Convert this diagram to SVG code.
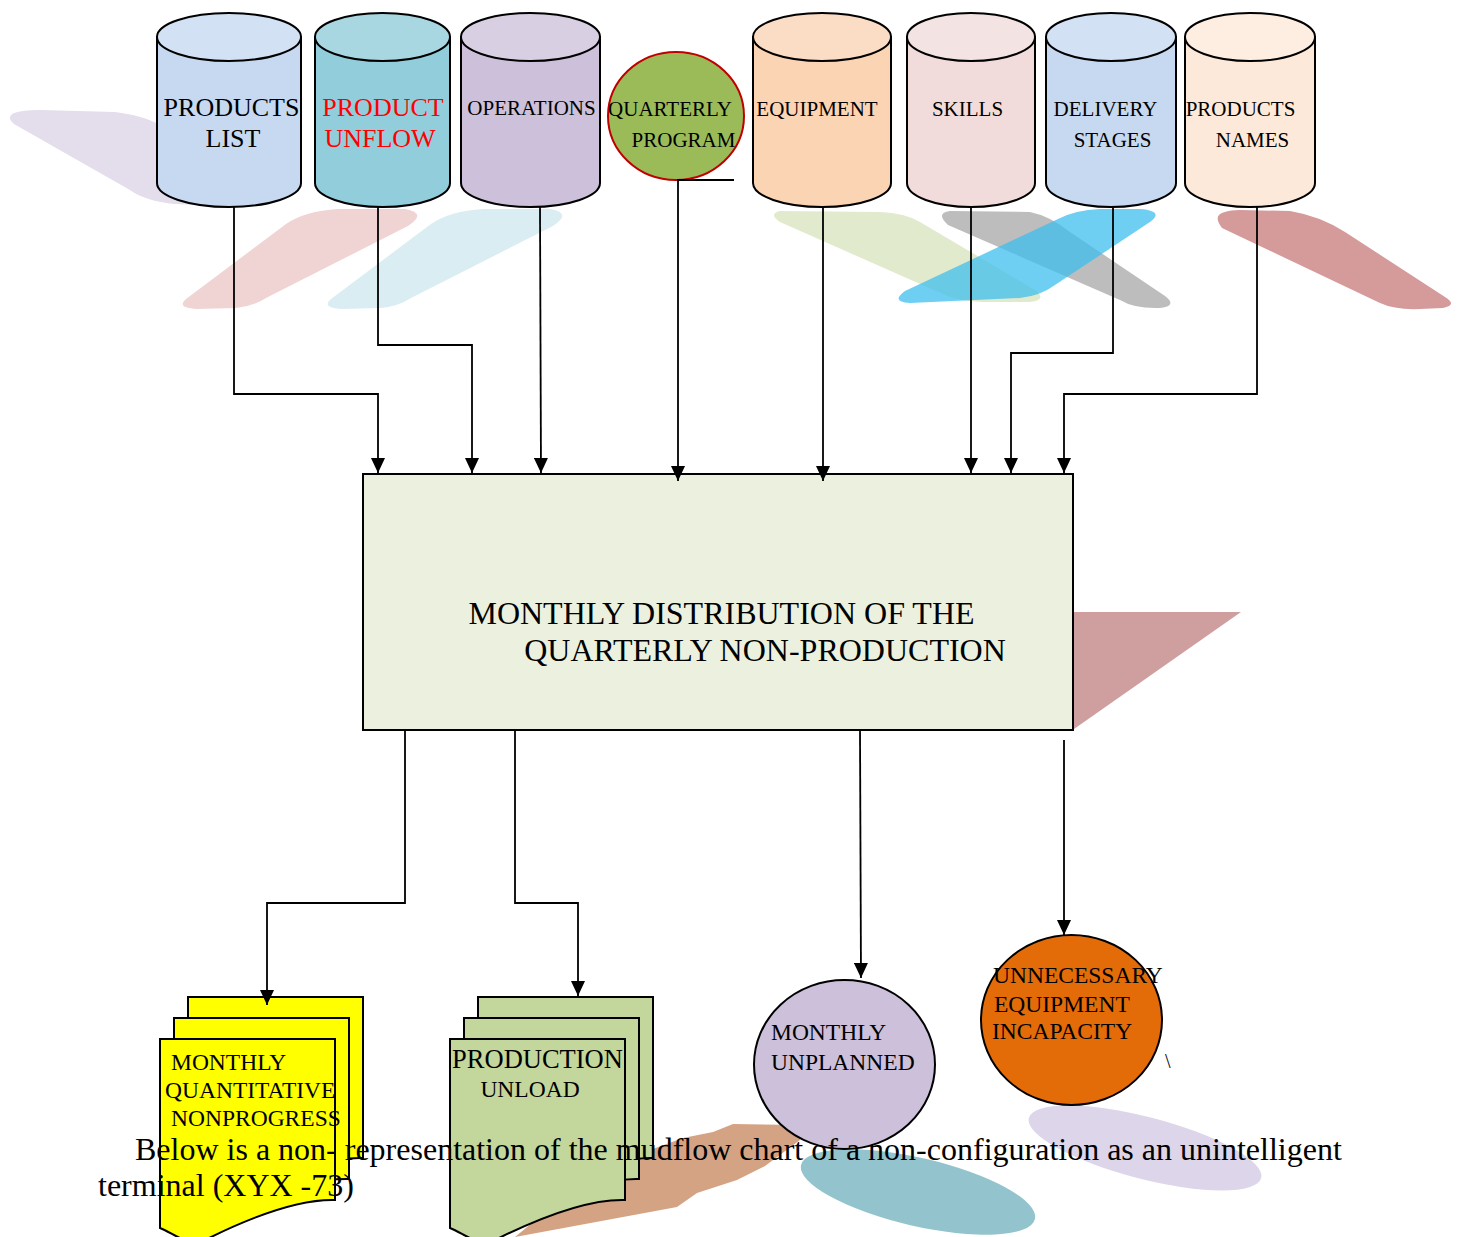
<svg xmlns="http://www.w3.org/2000/svg" xmlns:xlink="http://www.w3.org/1999/xlink" width="1461" height="1237" viewBox="0 0 1461 1237">
<style>
  text { font-family: "Liberation Serif", "Times New Roman", serif; fill: #000; }
  .cyl { stroke: #000; stroke-width: 2; }
  .conn { fill: none; stroke: #000; stroke-width: 1.8; marker-end: url(#arr); }
  .doc { stroke: #000; stroke-width: 2; }
  .t21 { font-size: 21px; text-anchor: middle; }
  .t26 { font-size: 26px; text-anchor: middle; }
  .t23 { font-size: 23.5px; }
</style>
<defs>
  <marker id="arr" markerWidth="15" markerHeight="14" refX="15" refY="7" orient="auto" markerUnits="userSpaceOnUse">
    <path d="M0,0 L15,7 L0,14 Z" fill="#000"/>
  </marker>
  <path id="docshape" d="M0,0 H175 V161 C140,160 95,176 45,201 C30,209 15,195 0,189 Z"/>
</defs>
<rect width="1461" height="1237" fill="#fff"/>

<g id="background-shapes">
  <path d="M14,113 Q6,117 14,124 L130,190 Q145,201 175,204 L240,206 L175,135 Q155,117 115,112 L40,110 Q22,110 14,113 Z" fill="#e3ddec"/>
  <path d="M186,299 Q176,308 196,309 L236,308 Q254,306 266,298 L408,226 Q428,213 405,209 L338,209 Q305,211 286,224 Z" fill="#f0d4d4"/>
  <path d="M331,299 Q321,308 341,309 L381,308 Q399,306 411,298 L553,226 Q573,213 550,209 L483,209 Q450,211 431,224 Z" fill="#d9edf2"/>
  <path d="M780,211 Q768,214 780,222 L945,295 Q960,302 990,302 L1030,302 Q1048,300 1035,290 L920,222 Q905,213 880,212 Z" fill="#e1eacc"/>
  <path d="M950,211 Q935,213 948,225 L1120,300 Q1135,309 1160,308 Q1178,306 1165,296 L1070,232 Q1050,216 1030,212 Z" fill="#bdbdbd"/>
  <path d="M905,291 Q890,302 910,303 L1020,298 Q1040,296 1055,285 L1150,222 Q1165,211 1140,209 L1100,209 Q1075,210 1058,219 Z" fill="#3fbfee" fill-opacity="0.75"/>
  <path d="M1225,212 Q1212,215 1222,228 L1380,303 Q1395,310 1420,309 L1443,308 Q1458,305 1445,297 L1345,232 Q1320,216 1290,211 L1240,210 Q1230,210 1225,212 Z" fill="#d59a9a"/>
  <polygon points="1074,612 1241,612 1074,729" fill="#cf9e9e"/>
  <polygon points="515,1237 677,1207 697,1193 737,1180 765,1166 800,1140 800,1125 733,1124 713,1132 683,1138 650,1150 600,1175 560,1200" fill="#d4a384"/>
  <ellipse cx="918" cy="1192" rx="120" ry="34" transform="rotate(13 918 1192)" fill="#93c4ce"/>
  <ellipse cx="1145" cy="1148" rx="120" ry="31" transform="rotate(14.5 1145 1148)" fill="#ddd6ea"/>
</g>

<g id="products-list">
  <path class="cyl" d="M157,37 V183 A72,24 0 0 0 301,183 V37 Z" fill="#c6d9f0"/>
  <ellipse class="cyl" cx="229" cy="37" rx="72" ry="24" fill="#d2e1f3"/>
  <text class="t26" x="231.5" y="116">PRODUCTS</text>
  <text class="t26" x="233" y="147">LIST</text>
</g>
<g id="product-unflow">
  <path class="cyl" d="M315,37 V183 A67.5,24 0 0 0 450,183 V37 Z" fill="#92cddc"/>
  <ellipse class="cyl" cx="382.5" cy="37" rx="67.5" ry="24" fill="#a8d7e2"/>
  <text class="t26" x="383" y="116" style="fill:#ff0000">PRODUCT</text>
  <text class="t26" x="380" y="147" style="fill:#ff0000">UNFLOW</text>
</g>
<g id="operations">
  <path class="cyl" d="M461,37 V183 A69.5,24 0 0 0 600,183 V37 Z" fill="#ccc0da"/>
  <ellipse class="cyl" cx="530.5" cy="37" rx="69.5" ry="24" fill="#d8cfe3"/>
  <text class="t21" x="531.5" y="115">OPERATIONS</text>
</g>
<g id="quarterly-program">
  <ellipse cx="676" cy="116" rx="68" ry="64" fill="#9bbb59" stroke="#c00000" stroke-width="2"/>
  <text class="t21" x="670" y="116">QUARTERLY</text>
  <text class="t21" x="683.5" y="147">PROGRAM</text>
</g>
<g id="equipment">
  <path class="cyl" d="M753,37 V183 A69,24 0 0 0 891,183 V37 Z" fill="#fbd4b4"/>
  <ellipse class="cyl" cx="822" cy="37" rx="69" ry="24" fill="#fbdcc4"/>
  <text class="t21" x="817" y="116">EQUIPMENT</text>
</g>
<g id="skills">
  <path class="cyl" d="M907,37 V183 A64,24 0 0 0 1035,183 V37 Z" fill="#f2dcdb"/>
  <ellipse class="cyl" cx="971" cy="37" rx="64" ry="24" fill="#f4e3e3"/>
  <text class="t21" x="967.5" y="116">SKILLS</text>
</g>
<g id="delivery-stages">
  <path class="cyl" d="M1046,37 V183 A65,24 0 0 0 1176,183 V37 Z" fill="#c6d9f0"/>
  <ellipse class="cyl" cx="1111" cy="37" rx="65" ry="24" fill="#d2e1f3"/>
  <text class="t21" x="1105.5" y="116">DELIVERY</text>
  <text class="t21" x="1112.5" y="147">STAGES</text>
</g>
<g id="products-names">
  <path class="cyl" d="M1185,37 V183 A65,24 0 0 0 1315,183 V37 Z" fill="#fde9d9"/>
  <ellipse class="cyl" cx="1250" cy="37" rx="65" ry="24" fill="#feeee2"/>
  <text class="t21" x="1240.5" y="116">PRODUCTS</text>
  <text class="t21" x="1252.5" y="147">NAMES</text>
</g>

<g id="monthly-distribution">
  <rect x="363" y="474" width="710" height="256" fill="#ebf1de" stroke="#000" stroke-width="2"/>
  <text x="721.5" y="624" font-size="32" text-anchor="middle">MONTHLY DISTRIBUTION OF THE</text>
  <text x="765" y="661" font-size="32" text-anchor="middle">QUARTERLY NON-PRODUCTION</text>
</g>

<g id="monthly-quantitative-nonprogress">
  <use xlink:href="#docshape" href="#docshape" x="188" y="997" class="doc" fill="#ffff00"/>
  <use xlink:href="#docshape" href="#docshape" x="174" y="1018" class="doc" fill="#ffff00"/>
  <use xlink:href="#docshape" href="#docshape" x="160" y="1039" class="doc" fill="#ffff00"/>
  <text class="t23" x="171" y="1070">MONTHLY</text>
  <text class="t23" x="165" y="1098">QUANTITATIVE</text>
  <text class="t23" x="171" y="1126">NONPROGRESS</text>
</g>

<g id="production-unload">
  <use xlink:href="#docshape" href="#docshape" x="478" y="997" class="doc" fill="#c3d69b"/>
  <use xlink:href="#docshape" href="#docshape" x="464" y="1018" class="doc" fill="#c3d69b"/>
  <use xlink:href="#docshape" href="#docshape" x="450" y="1039" class="doc" fill="#c3d69b"/>
  <text x="537.5" y="1068" font-size="26.5" text-anchor="middle">PRODUCTION</text>
  <text x="530" y="1097" font-size="23.5" text-anchor="middle">UNLOAD</text>
</g>

<g id="monthly-unplanned">
  <ellipse cx="844.5" cy="1064.5" rx="90.5" ry="84.5" fill="#ccc0da" stroke="#000" stroke-width="2"/>
  <text class="t23" x="771" y="1040">MONTHLY</text>
  <text class="t23" x="771" y="1070">UNPLANNED</text>
</g>

<g id="unnecessary-equipment-incapacity">
  <ellipse cx="1071.5" cy="1020" rx="90.5" ry="85" fill="#e36c09" stroke="#000" stroke-width="2"/>
  <text class="t23" x="993" y="983">UNNECESSARY</text>
  <text class="t23" x="994" y="1012">EQUIPMENT</text>
  <text class="t23" x="992" y="1039">INCAPACITY</text>
</g>

<g id="connectors">
  <path class="conn" d="M234,207 V394 H378 V473"/>
  <path class="conn" d="M378,207 V345 H472 V473"/>
  <path class="conn" d="M540,207 L541,473"/>
  <path class="conn" d="M734,180 H678 V481"/>
  <path class="conn" d="M823,207 V481"/>
  <path class="conn" d="M971,207 V473"/>
  <path class="conn" d="M1113,207 V353 H1011 V473"/>
  <path class="conn" d="M1257,207 V394 H1064 V473"/>
  <path class="conn" d="M405,730 V903 H267 V1005"/>
  <path class="conn" d="M515,730 V903 H578 V996"/>
  <path class="conn" d="M860,730 L861,978"/>
  <path class="conn" d="M1064,740 V935"/>
</g>

<text x="1165" y="1068" font-size="20" fill="#333">\</text>

<g id="caption">
  <text x="135" y="1160" font-size="32">Below is a non- representation of the mudflow chart of a non-configuration as an unintelligent</text>
  <text x="98" y="1196" font-size="32">terminal (XYX -73)</text>
</g>
</svg>
